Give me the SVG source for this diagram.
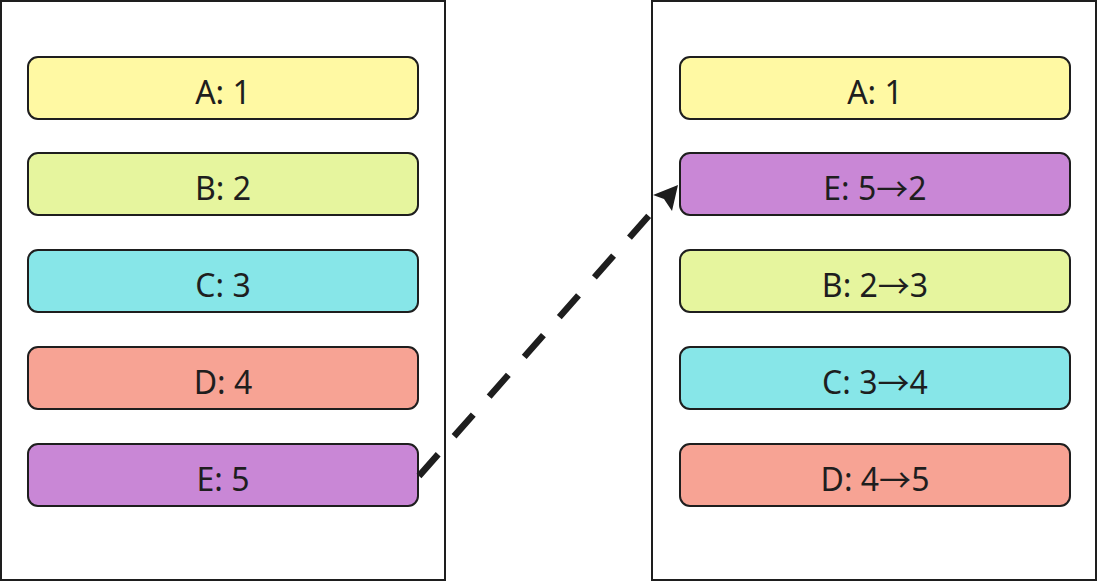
<svg xmlns="http://www.w3.org/2000/svg" width="1097" height="582" viewBox="0 0 1097 582">
<style>
.container{fill:#ffffff;stroke:#1e1e1e;stroke-width:2}
.box{stroke:#1e1e1e;stroke-width:2}
.lbl{font-family:"Noto Sans","Open Sans",sans-serif;font-size:32px;fill:#1e1e1e;text-anchor:middle;dominant-baseline:central}
.ar{font-family:"Noto Sans CJK SC",sans-serif}
.yellow{fill:#fff9a3}.green{fill:#e6f59e}.cyan{fill:#87e6e8}.red{fill:#f7a394}.purple{fill:#c987d6}
</style>
<g id="left-container"><rect class="container" x="1" y="1" width="444" height="579"/></g>
<g id="right-container"><rect class="container" x="652" y="1" width="444" height="579"/></g>
<g id="L-A"><rect class="box yellow" x="28" y="57" width="390" height="62" rx="10"/><text class="lbl" x="223" y="91">A: 1</text></g>
<g id="L-B"><rect class="box green" x="28" y="153" width="390" height="62" rx="10"/><text class="lbl" x="223" y="187">B: 2</text></g>
<g id="L-C"><rect class="box cyan" x="28" y="250" width="390" height="62" rx="10"/><text class="lbl" x="223" y="284">C: 3</text></g>
<g id="L-D"><rect class="box red" x="28" y="347" width="390" height="62" rx="10"/><text class="lbl" x="223" y="381">D: 4</text></g>
<g id="L-E"><rect class="box purple" x="28" y="444" width="390" height="62" rx="10"/><text class="lbl" x="223" y="478">E: 5</text></g>
<g id="R-A"><rect class="box yellow" x="680" y="57" width="390" height="62" rx="10"/><text class="lbl" x="875" y="91">A: 1</text></g>
<g id="R-E"><rect class="box purple" x="680" y="153" width="390" height="62" rx="10"/><text class="lbl" x="875" y="187">E: 5<tspan class="ar">→</tspan>2</text></g>
<g id="R-B"><rect class="box green" x="680" y="250" width="390" height="62" rx="10"/><text class="lbl" x="875" y="284">B: 2<tspan class="ar">→</tspan>3</text></g>
<g id="R-C"><rect class="box cyan" x="680" y="347" width="390" height="62" rx="10"/><text class="lbl" x="875" y="381">C: 3<tspan class="ar">→</tspan>4</text></g>
<g id="R-D"><rect class="box red" x="680" y="444" width="390" height="62" rx="10"/><text class="lbl" x="875" y="478">D: 4<tspan class="ar">→</tspan>5</text></g>
<g id="connectors">
<line x1="419" y1="476" x2="660" y2="203" stroke="#1e1e1e" stroke-width="6.5" stroke-dasharray="29 24"/>
<path d="M678,185 L672,211 L664,199 L653,195 Z" fill="#1e1e1e"/>
</g>
</svg>
